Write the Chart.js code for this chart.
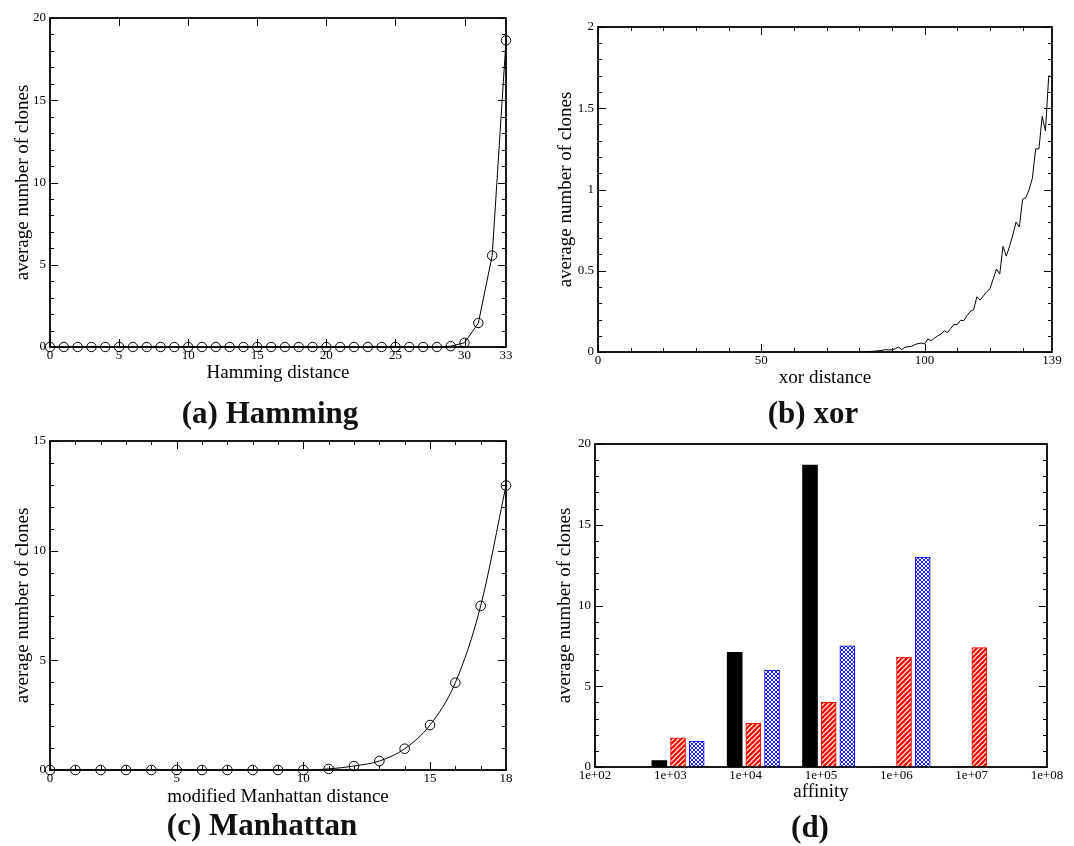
<!DOCTYPE html>
<html>
<head>
<meta charset="utf-8">
<script src="https://cdn.jsdelivr.net/npm/chart.js@4.4.1/dist/chart.umd.min.js"></script>
<style>
  html, body { margin: 0; padding: 0; background: #fff; }
  body { width: 1074px; height: 846px; position: relative; overflow: hidden;
         font-family: "Liberation Serif", "DejaVu Serif", serif; }
  canvas { position: absolute; }
  .cap { position: absolute; font-weight: bold; font-size: 31px; line-height: 1;
         transform: translate(-50%, -50%); white-space: nowrap; color: #111; }
</style>
</head>
<body>
<canvas id="cHam" width="540" height="395" style="left:0;top:0"></canvas>
<canvas id="cXor" width="534" height="395" style="left:540px;top:0"></canvas>
<canvas id="cMan" width="540" height="395" style="left:0;top:420px"></canvas>
<canvas id="cAff" width="534" height="395" style="left:540px;top:420px"></canvas>
<div class="cap" style="left:270px;top:412px">(a) Hamming</div>
<div class="cap" style="left:813px;top:412px">(b) xor</div>
<div class="cap" style="left:262px;top:824px">(c) Manhattan</div>
<div class="cap" style="left:810px;top:826px">(d)</div>

<script>
/* ---------- DATA ---------- */
const hammingDist = [0,1,2,3,4,5,6,7,8,9,10,11,12,13,14,15,16,17,18,19,20,21,22,23,24,25,26,27,28,29,30,31,32,33];
const hammingClones = [0,0,0,0,0,0,0,0,0,0,0,0,0,0,0,0,0,0,0,0,0,0,0,0,0,0,0,0,0,0.05,0.26,1.46,5.56,18.64];
const hammingTickLabels = [0, 5, 10, 15, 20, 25, 30, 33];

const xorDist = [80,81,82,83,84,85,86,87,88,89,90,91,92,93,94,95,96,97,98,99,
  100,101,102,103,104,105,106,107,108,109,110,111,112,113,114,115,116,117,118,119,
  120,121,122,123,124,125,126,127,128,129,130,131,132,133,134,135,136,137,138,139];
const xorClones = [0,0.001,0.002,0.003,0.004,0.006,0.008,0.01,0.015,0.012,0.014,0.02,0.03,0.015,0.03,0.032,0.035,0.045,0.052,0.055,
  0.05,0.08,0.07,0.085,0.1,0.11,0.13,0.12,0.145,0.17,0.168,0.195,0.193,0.225,0.25,0.26,0.34,0.32,0.345,0.37,
  0.39,0.45,0.51,0.48,0.65,0.59,0.65,0.72,0.8,0.77,0.94,0.95,1.0,1.07,1.25,1.25,1.45,1.36,1.7,1.69];
const xorTickLabels = [0, 50, 100, 139];

const manhattanDist = [0,1,2,3,4,5,6,7,8,9,10,11,12,13,14,15,16,17,18];
const manhattanClones = [0,0,0,0,0,0,0,0,0,0,0,0.05,0.18,0.41,0.97,2.05,3.98,7.48,12.97];
const manhattanTickLabels = [0, 5, 10, 15, 18];

// (d) affinity decades (log10) and bar heights per distance measure
const affinityExp = [3, 4, 5, 6, 7];
const barsHamming = [0.4, 7.1, 18.7, 0, 0];
const barsXor = [1.8, 2.7, 4.0, 6.8, 7.4];
const barsManhattan = [1.6, 6.0, 7.5, 13.0, 0];
const affinityTickLabels = [2, 3, 4, 5, 6, 7, 8];

/* ---------- SETUP ---------- */
Chart.defaults.font.family = '"Liberation Serif", "DejaVu Serif", serif';
Chart.defaults.color = '#000';
Chart.defaults.animation = false;

// inward ticks on all four sides + frame, in grace style
const frameTicks = {
  id: 'frameTicks',
  afterDatasetsDraw(chart, args, opts) {
    const { ctx, chartArea: a, scales: { x, y } } = chart;
    ctx.save();
    ctx.strokeStyle = '#000';
    ctx.lineWidth = 1;
    const vals = (scale, step) => {
      const out = [];
      if (!step) return out;
      for (let v = Math.ceil(scale.min / step) * step; v <= scale.max + 1e-9; v += step) out.push(v);
      return out;
    };
    ctx.beginPath();
    [[opts.xMinor, 4], [opts.xMajor, 8]].forEach(([step, len]) => {
      vals(x, step).forEach(v => {
        const px = Math.round(x.getPixelForValue(v)) + 0.5;
        ctx.moveTo(px, a.bottom); ctx.lineTo(px, a.bottom - len);
        ctx.moveTo(px, a.top); ctx.lineTo(px, a.top + len);
      });
    });
    [[opts.yMinor, 4], [opts.yMajor, 8]].forEach(([step, len]) => {
      vals(y, step).forEach(v => {
        const py = Math.round(y.getPixelForValue(v)) + 0.5;
        ctx.moveTo(a.left, py); ctx.lineTo(a.left + len, py);
        ctx.moveTo(a.right, py); ctx.lineTo(a.right - len, py);
      });
    });
    ctx.stroke();
    ctx.lineWidth = 1.8;
    ctx.strokeRect(a.left, a.top, a.right - a.left, a.bottom - a.top);
    ctx.restore();
  }
};

function axes(o) {
  return {
    x: {
      type: 'linear', min: o.xMin, max: o.xMax, offset: false,
      grid: { display: false, drawTicks: false }, border: { display: false },
      ticks: { font: { size: 13 }, color: '#000', padding: 1, maxRotation: 0, autoSkip: false,
               callback: o.xFmt || (v => String(v)) },
      afterBuildTicks: s => { s.ticks = o.xLabels.map(v => ({ value: v })); },
      afterFit: s => { s.height = o.bottom; },
      title: { display: true, text: o.xTitle, font: { size: 19 }, color: '#000',
               padding: { top: 0, bottom: o.xTitlePad } }
    },
    y: {
      min: o.yMin, max: o.yMax,
      grid: { display: false, drawTicks: false }, border: { display: false },
      ticks: { font: { size: 13 }, color: '#000', padding: 4, stepSize: o.yStep,
               callback: v => String(v) },
      afterFit: s => { s.width = o.left; },
      title: { display: true, text: 'average number of clones', font: { size: 19 }, color: '#000',
               padding: { top: o.yTitlePad, bottom: 0 } }
    }
  };
}

function lineChart(id, xs, ys, o, extra) {
  return new Chart(document.getElementById(id), {
    type: 'line',
    data: {
      datasets: [Object.assign({
        data: xs.map((v, i) => ({ x: v, y: ys[i] })),
        borderColor: '#000', borderWidth: 1, tension: 0,
        pointRadius: 0, clip: false
      }, extra)]
    },
    options: {
      responsive: false,
      layout: { padding: { left: 0, top: o.top, right: o.right, bottom: 0 } },
      plugins: { legend: { display: false }, tooltip: { enabled: false }, frameTicks: o.ticks },
      scales: axes(o)
    },
    plugins: [frameTicks]
  });
}

/* ---------- (a) Hamming ---------- */
lineChart('cHam', hammingDist, hammingClones, {
  xMin: 0, xMax: 33, yMin: 0, yMax: 20, yStep: 5, xLabels: hammingTickLabels,
  xTitle: 'Hamming distance', top: 18, right: 34, left: 50, bottom: 48,
  xTitlePad: 10.6, yTitlePad: 11.6,
  ticks: { xMajor: 5, yMajor: 5, yMinor: 1 }
}, { pointRadius: 4.7, pointBorderWidth: 1, pointBorderColor: '#000', pointBackgroundColor: 'rgba(0,0,0,0)' });

/* ---------- (b) xor ---------- */
lineChart('cXor', xorDist, xorClones, {
  xMin: 0, xMax: 139, yMin: 0, yMax: 2, yStep: 0.5, xLabels: xorTickLabels,
  xTitle: 'xor distance', top: 27, right: 22, left: 58, bottom: 43,
  xTitlePad: 5.6, yTitlePad: 15,
  ticks: { xMajor: 50, xMinor: 10, yMajor: 0.5, yMinor: 0.1 }
}, {});

/* ---------- (c) Manhattan ---------- */
lineChart('cMan', manhattanDist, manhattanClones, {
  xMin: 0, xMax: 18, yMin: 0, yMax: 15, yStep: 5, xLabels: manhattanTickLabels,
  xTitle: 'modified Manhattan distance', top: 21, right: 34, left: 50, bottom: 45,
  xTitlePad: 6.6, yTitlePad: 11.6,
  ticks: { xMajor: 5, xMinor: 1, yMajor: 5, yMinor: 1 }
}, { cubicInterpolationMode: 'monotone', pointRadius: 4.8, pointBorderWidth: 1,
     pointBorderColor: '#000', pointBackgroundColor: 'rgba(0,0,0,0)' });

/* ---------- (d) affinity bars ---------- */
const affCanvas = document.getElementById('cAff');
const actx = affCanvas.getContext('2d');

function stripePattern(color) {
  const c = document.createElement('canvas');
  c.width = c.height = 5;
  const g = c.getContext('2d');
  g.fillStyle = '#fff'; g.fillRect(0, 0, 5, 5);
  g.strokeStyle = color; g.lineWidth = 2.3;
  g.beginPath();
  g.moveTo(-1, 6); g.lineTo(6, -1);
  g.moveTo(-1, 1); g.lineTo(1, -1);
  g.moveTo(4, 6); g.lineTo(6, 4);
  g.stroke();
  return actx.createPattern(c, 'repeat');
}

function meshPattern(color) {
  const c = document.createElement('canvas');
  c.width = c.height = 4;
  const g = c.getContext('2d');
  g.fillStyle = '#fff'; g.fillRect(0, 0, 4, 4);
  g.strokeStyle = color; g.lineWidth = 0.9;
  g.beginPath();
  g.moveTo(0, 0); g.lineTo(4, 4);
  g.moveTo(4, 0); g.lineTo(0, 4);
  g.stroke();
  return actx.createPattern(c, 'repeat');
}

function barSet(vals, shift, fill, border) {
  return {
    data: affinityExp.map((e, i) => ({ x: e + shift, y: vals[i] })),
    backgroundColor: fill, borderColor: border, borderWidth: border ? 1 : 0,
    barThickness: 15, grouped: false
  };
}

const affAxes = axes({
  xMin: 2, xMax: 8, yMin: 0, yMax: 20, yStep: 5, xLabels: affinityTickLabels,
  xFmt: v => '1e+' + String(v).padStart(2, '0'),
  xTitle: 'affinity', left: 55, bottom: 48, xTitlePad: 12, yTitlePad: 14
});

new Chart(affCanvas, {
  type: 'bar',
  data: {
    datasets: [
      barSet(barsHamming, -0.146, '#000', null),
      barSet(barsXor, 0.102, stripePattern('#ff0000'), '#ff0000'),
      barSet(barsManhattan, 0.35, meshPattern('#0000ff'), '#0000ff')
    ]
  },
  options: {
    responsive: false,
    layout: { padding: { left: 0, top: 24, right: 27, bottom: 0 } },
    plugins: { legend: { display: false }, tooltip: { enabled: false },
               frameTicks: { yMajor: 5, yMinor: 1 } },
    scales: affAxes
  },
  plugins: [frameTicks]
});
</script>
</body>
</html>
